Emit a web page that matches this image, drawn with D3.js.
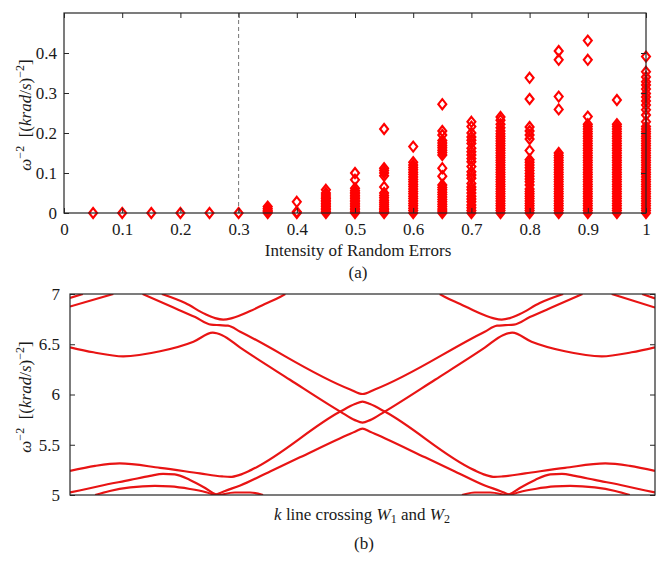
<!DOCTYPE html>
<html><head><meta charset="utf-8">
<script src="https://cdn.jsdelivr.net/npm/d3@7"></script>
<style>
body{margin:0;background:#fff}
svg{display:block}
text{font-family:"Liberation Serif","Times New Roman",serif;fill:#1a1a1a}
</style>
</head><body>
<svg id="c" width="668" height="561"></svg>
<script>
// ---------- Panel (a) data ----------
const intensities = [0.05,0.1,0.15,0.2,0.25,0.3,0.35,0.4,0.45,0.5,0.55,0.6,0.65,0.7,0.75,0.8,0.85,0.9,0.95,1.0];
const omegaValues = [
  [0],[0],[0],[0],[0],[0],
  [0,0.003,0.007,0.011,0.016],
  [0,0.003,0.028],
  [0,0.004,0.008,0.012,0.016,0.02,0.024,0.028,0.032,0.036,0.04,0.045,0.05,0.058],
  [0,0.004,0.008,0.012,0.016,0.02,0.024,0.028,0.032,0.036,0.04,0.044,0.048,0.052,0.056,0.062,0.083,0.1],
  [0,0.004,0.008,0.012,0.017,0.022,0.027,0.032,0.038,0.044,0.05,0.065,0.093,0.1,0.106,0.112,0.21],
  [0,0.006,0.012,0.018,0.024,0.03,0.036,0.042,0.048,0.054,0.06,0.066,0.072,0.078,0.084,0.09,0.096,0.102,0.108,0.114,0.12,0.127,0.166],
  [0,0.005,0.01,0.016,0.022,0.028,0.034,0.04,0.046,0.052,0.058,0.064,0.07,0.092,0.112,0.145,0.151,0.157,0.163,0.169,0.175,0.181,0.195,0.205,0.272],
  [0,0.006,0.013,0.02,0.028,0.035,0.042,0.05,0.058,0.065,0.074,0.087,0.095,0.103,0.116,0.128,0.136,0.145,0.153,0.162,0.174,0.182,0.19,0.2,0.216,0.228],
  [0,0.006,0.012,0.018,0.024,0.03,0.036,0.042,0.048,0.054,0.06,0.066,0.072,0.078,0.084,0.09,0.096,0.102,0.108,0.114,0.12,0.126,0.132,0.138,0.144,0.15,0.156,0.162,0.168,0.174,0.18,0.186,0.192,0.198,0.205,0.213,0.222,0.232,0.24],
  [0,0.006,0.012,0.018,0.024,0.03,0.036,0.042,0.048,0.054,0.06,0.07,0.078,0.085,0.092,0.099,0.106,0.113,0.12,0.127,0.133,0.156,0.185,0.195,0.205,0.215,0.285,0.338],
  [0,0.006,0.012,0.018,0.024,0.03,0.036,0.042,0.048,0.054,0.06,0.066,0.072,0.078,0.084,0.09,0.096,0.102,0.108,0.114,0.12,0.126,0.132,0.138,0.144,0.15,0.259,0.291,0.383,0.405],
  [0,0.006,0.012,0.018,0.024,0.03,0.036,0.042,0.048,0.054,0.06,0.066,0.072,0.078,0.084,0.09,0.096,0.102,0.108,0.114,0.12,0.126,0.132,0.138,0.144,0.15,0.156,0.162,0.168,0.174,0.18,0.186,0.192,0.198,0.204,0.21,0.216,0.222,0.241,0.383,0.431],
  [0,0.006,0.012,0.018,0.024,0.03,0.036,0.042,0.048,0.054,0.06,0.066,0.072,0.078,0.084,0.09,0.096,0.102,0.108,0.114,0.12,0.126,0.132,0.138,0.144,0.15,0.156,0.162,0.168,0.174,0.18,0.186,0.192,0.198,0.204,0.21,0.216,0.222,0.2825],
  [0,0.006,0.012,0.018,0.024,0.03,0.036,0.042,0.048,0.054,0.06,0.066,0.072,0.078,0.084,0.09,0.096,0.102,0.108,0.114,0.12,0.126,0.132,0.138,0.144,0.15,0.156,0.162,0.168,0.174,0.18,0.186,0.192,0.198,0.204,0.21,0.216,0.228,0.245,0.258,0.27,0.28,0.29,0.299,0.31,0.32,0.328,0.34,0.353,0.391]
];
const xTicksA = [0,0.1,0.2,0.3,0.4,0.5,0.6,0.7,0.8,0.9,1];
const yTicksA = [0,0.1,0.2,0.3,0.4];
const thresholdA = 0.3;

// ---------- Panel (b) data: bands along k (0..100) ----------
const band1 = [[0,6.47],[4,6.42],[9.1,6.38],[15.4,6.43],[21.1,6.525],[24.4,6.615],[26,6.59],[29.1,6.466],[37.6,6.147],[46.2,5.83],[48.7,5.745],[50,5.72],
               [51.3,5.745],[53.8,5.83],[62.4,6.147],[70.9,6.466],[74,6.59],[75.6,6.615],[78.9,6.525],[84.6,6.43],[90.9,6.38],[96,6.42],[100,6.47]];
const band2 = [[0,5.24],[4.3,5.29],[8.5,5.315],[15.4,5.27],[22.2,5.215],[26,5.185],[27.4,5.18],[29,5.2],[31,5.25],[46.2,5.83],[48.7,5.905],[50,5.93],
               [51.3,5.905],[53.8,5.83],[69,5.25],[71,5.2],[72.6,5.18],[74,5.185],[77.8,5.215],[84.6,5.27],[91.5,5.315],[95.7,5.29],[100,5.24]];
const band3 = [[12.4,7.0],[17.1,6.88],[21.4,6.77],[24.1,6.695],[25.6,6.69],[27,6.685],[29.1,6.625],[47.9,6.05],[50,6.005],
               [52.1,6.05],[70.9,6.625],[73,6.685],[74.4,6.69],[75.9,6.695],[78.6,6.77],[82.9,6.88],[87.6,7.0]];
const band4a = [[15.7,7.0],[19.7,6.91],[23.1,6.8],[24.8,6.76],[26.2,6.745],[27.7,6.76],[30.8,6.83],[33.3,6.9],[35.9,6.97],[36.8,7.0]];
const band4b = [[63.2,7.0],[64.1,6.97],[66.7,6.9],[69.2,6.83],[72.3,6.76],[73.8,6.745],[75.2,6.76],[76.9,6.8],[80.3,6.91],[84.3,7.0]];
const band5a = [[0,6.875],[7.4,7.0]];
const band5b = [[92.6,7.0],[100,6.865]];
const band5c = [[0,6.96],[2.2,7.0]];
const band5d = [[97.8,7.0],[100,6.955]];
const band6a = [[0,5.025],[5.1,5.09],[10.3,5.15],[13.7,5.19],[15.9,5.21],[17.9,5.205],[20.5,5.15],[23.1,5.07],[24.8,5.01],[25.6,5.0]];
const band6b = [[74.4,5.0],[75.2,5.01],[76.9,5.07],[79.5,5.15],[82.1,5.205],[84.1,5.21],[86.3,5.19],[89.7,5.15],[94.9,5.09],[100,5.025]];
const band7a = [[4.3,5.0],[6.8,5.04],[10.3,5.075],[14.5,5.09],[17.1,5.085],[20.5,5.06],[23.1,5.03],[24.8,5.0]];
const band7b = [[75.2,5.0],[76.9,5.03],[79.5,5.06],[82.9,5.085],[85.5,5.09],[89.7,5.075],[93.2,5.04],[95.7,5.0]];
const band8 = [[24.8,5.0],[26.5,5.04],[29.1,5.095],[34.2,5.235],[39.3,5.375],[46.2,5.565],[48.7,5.63],[50,5.66],
               [51.3,5.63],[53.8,5.565],[60.7,5.375],[65.8,5.235],[70.9,5.095],[73.5,5.04],[75.2,5.0]];
const band9a = [[25.6,5.0],[28.2,5.025],[30.8,5.025],[33,5.0]];
const band9b = [[67,5.0],[69.2,5.025],[71.8,5.025],[74.4,5.0]];
const bandsB = [band1,band2,band3,band4a,band4b,band5a,band5b,band5c,band5d,band6a,band6b,band7a,band7b,band8,band9a,band9b];
const yTicksB = [5,5.5,6,6.5,7];

// ---------- drawing ----------
const svg = d3.select("#c");
const RED = "#ff0000";
const AXC = "#262626";
const SERIF = '"Liberation Serif","Times New Roman",serif';

// Panel (a)
const xA = d3.scaleLinear().domain([0,1]).range([64,646]);
const yA = d3.scaleLinear().domain([0,0.5]).range([213,13]);
const gA = svg.append("g");
gA.append("line").attr("x1",xA(thresholdA)).attr("x2",xA(thresholdA)).attr("y1",yA(0.5)).attr("y2",yA(0))
  .attr("stroke","#666").attr("stroke-width",0.9).attr("stroke-dasharray","4,3");

const pts = [];
intensities.forEach((x,i)=>omegaValues[i].forEach(v=>pts.push([x,v])));
gA.append("g").selectAll("path").data(pts).join("path")
  .attr("transform",d=>`translate(${xA(d[0])},${yA(d[1])})`)
  .attr("d","M0,-5L4,0L0,5L-4,0Z")
  .attr("fill","none").attr("stroke",RED).attr("stroke-width",2.1);

function styleAxis(g){
  g.attr("font-family",SERIF).attr("font-size",17);
  g.select(".domain").remove();
  g.selectAll(".tick line").attr("stroke",AXC).attr("stroke-width",1);
  g.selectAll(".tick text").attr("fill","#1a1a1a");
}
const fmt = d=> String(d);
gA.append("g").attr("transform","translate(0,213)")
  .call(d3.axisBottom(xA).tickValues(xTicksA).tickFormat(fmt).tickSize(-5).tickPadding(10)).call(styleAxis);
gA.append("g").attr("transform","translate(0,13)")
  .call(d3.axisTop(xA).tickValues(xTicksA).tickFormat("").tickSize(-5)).call(styleAxis);
gA.append("g").attr("transform","translate(64,0)")
  .call(d3.axisLeft(yA).tickValues(yTicksA).tickFormat(fmt).tickSize(-5).tickPadding(7)).call(styleAxis);
gA.append("g").attr("transform","translate(646,0)")
  .call(d3.axisRight(yA).tickValues(yTicksA).tickFormat("").tickSize(-5)).call(styleAxis);
gA.append("rect").attr("x",64).attr("y",13).attr("width",582).attr("height",200)
  .attr("fill","none").attr("stroke",AXC).attr("stroke-width",1.2);

function yLabel(g, cx, cy){
  const t = g.append("text").attr("transform",`translate(${cx},${cy}) rotate(-90)`)
    .attr("text-anchor","middle").attr("font-size",17).attr("xml:space","preserve");
  t.append("tspan").attr("font-style","italic").text("ω");
  t.append("tspan").attr("dy","-7").attr("font-size",12).text("−2");
  t.append("tspan").attr("dy","7").text("  [(");
  t.append("tspan").attr("font-style","italic").text("krad");
  t.append("tspan").text("/");
  t.append("tspan").attr("font-style","italic").text("s");
  t.append("tspan").text(")");
  t.append("tspan").attr("dy","-7").attr("font-size",12).text("−2");
  t.append("tspan").attr("dy","7").text("]");
}
yLabel(gA, 31, 115);
gA.append("text").attr("x",358).attr("y",256).attr("text-anchor","middle").attr("font-size",17).text("Intensity of Random Errors");
svg.append("text").attr("x",358).attr("y",278).attr("text-anchor","middle").attr("font-size",17).text("(a)");

// Panel (b)
const xB = d3.scaleLinear().domain([0,100]).range([70,655]);
const yB = d3.scaleLinear().domain([5,7]).range([495,294]);
const gB = svg.append("g");
svg.append("defs").append("clipPath").attr("id","clipB").append("rect")
  .attr("x",70).attr("y",294).attr("width",585).attr("height",201);
const line = d3.line().x(d=>xB(d[0])).y(d=>yB(d[1])).curve(d3.curveMonotoneX);
gB.append("g").attr("clip-path","url(#clipB)").selectAll("path").data(bandsB).join("path")
  .attr("d",line).attr("fill","none").attr("stroke","#e81414").attr("stroke-width",2.2);
gB.append("g").attr("transform","translate(70,0)")
  .call(d3.axisLeft(yB).tickValues(yTicksB).tickFormat(d=>String(d)).tickSize(-5).tickPadding(10)).call(styleAxis);
gB.append("g").attr("transform","translate(655,0)")
  .call(d3.axisRight(yB).tickValues(yTicksB).tickFormat("").tickSize(-5)).call(styleAxis);
gB.append("rect").attr("x",70).attr("y",294).attr("width",585).attr("height",201)
  .attr("fill","none").attr("stroke",AXC).attr("stroke-width",1.2);
yLabel(gB, 31, 397);
const xl = gB.append("text").attr("x",362).attr("y",520).attr("text-anchor","middle").attr("font-size",17);
xl.append("tspan").attr("font-style","italic").text("k");
xl.append("tspan").text(" line crossing ");
xl.append("tspan").attr("font-style","italic").text("W");
xl.append("tspan").attr("dy","3").attr("font-size",12).text("1");
xl.append("tspan").attr("dy","-3").text(" and ");
xl.append("tspan").attr("font-style","italic").text("W");
xl.append("tspan").attr("dy","3").attr("font-size",12).text("2");
svg.append("text").attr("x",364).attr("y",549).attr("text-anchor","middle").attr("font-size",17).text("(b)");
</script>
</body></html>
